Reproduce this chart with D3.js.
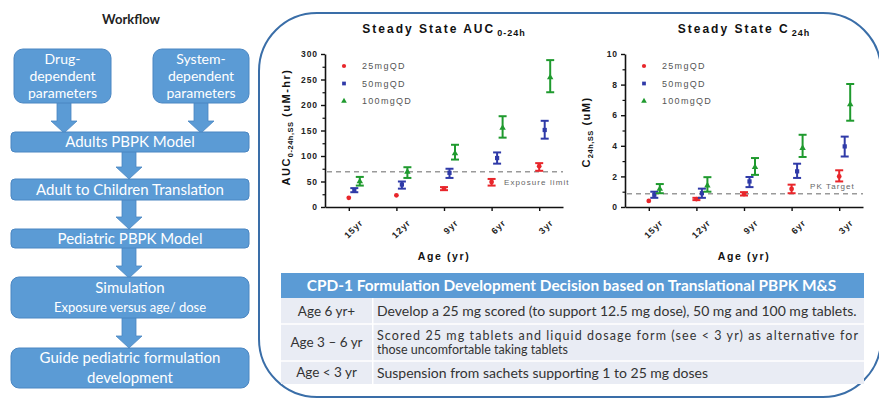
<!DOCTYPE html>
<html>
<head>
<meta charset="utf-8">
<script src="https://cdn.jsdelivr.net/npm/d3@7/dist/d3.min.js"></script>
<style>
  body { margin: 0; background: #fff; }
  svg { display: block; }
</style>
</head>
<body>
<div id="chart"></div>
<script>
// categories
const ages = ["15yr", "12yr", "9yr", "6yr", "3yr"];
const doses = ["25mgQD", "50mgQD", "100mgQD"];

// AUC 0-24h (uM-hr): [mean, low, high] per age
const auc25  = [[18, 18, 18], [23, 23, 23], [36, 33, 39], [49, 42, 55], [80, 71, 86]];
const auc50  = [[33, 29, 37], [44, 36, 50], [67, 57, 75], [96, 85, 107], [151, 134, 169]];
const auc100 = [[50, 42, 59], [69, 57, 78], [105, 93, 122], [155, 136, 178], [254, 225, 288]];

// C 24h (uM): [mean, low, high] per age
const c25  = [[0.40, 0.40, 0.40], [0.52, 0.45, 0.60], [0.85, 0.75, 0.97], [1.18, 0.90, 1.46], [2.00, 1.67, 2.40]];
const c50  = [[0.80, 0.60, 1.00], [0.90, 0.60, 1.20], [1.67, 1.30, 1.96], [2.33, 1.90, 2.83], [3.96, 3.30, 4.60]];
const c100 = [[1.18, 0.90, 1.50], [1.40, 1.00, 1.95], [2.60, 2.10, 3.20], [3.85, 3.27, 4.72], [6.70, 5.64, 8.04]];

const exposureLimit = 69;
const pkTarget = 0.87;

// workflow + table text
const workflowSteps = ["Adults PBPK Model", "Adult to Children Translation", "Pediatric PBPK Model",
                       ["Simulation", "Exposure versus age/ dose"], ["Guide pediatric formulation", "development"]];
const tableHeader = "CPD-1 Formulation Development Decision based on Translational PBPK M&S";
const tableAges = ["Age 6 yr+", "Age 3 \u2013 6 yr", "Age < 3 yr"];
const tableText = [
  ["Develop a 25 mg scored (to support 12.5 mg dose), 50 mg and 100 mg tablets."],
  ["Scored 25 mg tablets and liquid dosage form (see < 3 yr) as alternative for", "those uncomfortable taking tablets"],
  ["Suspension from sachets supporting 1 to 25 mg doses"]
];

const doseColors = ["#e8262b", "#2f3aa8", "#1f9a2e"];
const doseSymbols = [d3.symbolCircle, d3.symbolSquare, d3.symbolTriangle];
const boxBlue = "#5b9bd5";
const sans = "'Liberation Sans', Arial, sans-serif";
const cal = "Lato, 'Open Sans', sans-serif";

const svg = d3.select("#chart").append("svg")
  .attr("width", 879)
  .attr("height", 399);

// ---------- workflow ----------
const wf = svg.append("g").attr("font-family", cal);

wf.append("text")
  .attr("x", 131).attr("y", 24)
  .attr("text-anchor", "middle")
  .attr("font-weight", "bold")
  .attr("font-size", 13)
  .attr("fill", "#222")
  .text("Workflow");

function blockArrow(cx, y0, y1) {
  const sw = 7, hw = 13, hh = 12;
  const p = d3.path();
  p.moveTo(cx - sw, y0);
  p.lineTo(cx + sw, y0);
  p.lineTo(cx + sw, y1 - hh);
  p.lineTo(cx + hw, y1 - hh);
  p.lineTo(cx, y1);
  p.lineTo(cx - hw, y1 - hh);
  p.lineTo(cx - sw, y1 - hh);
  p.closePath();
  wf.append("path").attr("d", p.toString())
    .attr("fill", boxBlue).attr("stroke", "#4a86c2").attr("stroke-width", 0.8);
}

function box(x, y, w, h, r, lines, sizes, lineGap) {
  wf.append("rect")
    .attr("x", x).attr("y", y).attr("width", w).attr("height", h)
    .attr("rx", r)
    .attr("fill", boxBlue).attr("stroke", "#4a86c2").attr("stroke-width", 1);
  const n = lines.length;
  lines.forEach((t, i) => {
    wf.append("text")
      .attr("x", x + w / 2)
      .attr("y", y + h / 2 + (i - (n - 1) / 2) * lineGap)
      .attr("dy", "0.36em")
      .attr("text-anchor", "middle")
      .attr("fill", "#fff")
      .attr("font-size", sizes[i])
      .text(t);
  });
}

blockArrow(64, 101, 133);
blockArrow(201, 101, 133);
blockArrow(129, 151, 179);
blockArrow(129, 199, 229);
blockArrow(129, 247, 278);
blockArrow(129, 317, 348);

box(14, 49, 97, 54, 9, ["Drug-", "dependent", "parameters"], [14, 14, 14], 17);
box(153, 49, 96, 54, 9, ["System-", "dependent", "parameters"], [14, 14, 14], 17);
box(11, 132, 238, 20, 4, [workflowSteps[0]], [15], 0);
box(11, 179, 238, 21, 4, [workflowSteps[1]], [15], 0);
box(11, 229, 238, 19, 4, [workflowSteps[2]], [15], 0);
box(11, 277, 238, 41, 8, workflowSteps[3], [15, 13], 19);
box(11, 348, 238, 40, 8, workflowSteps[4], [15, 15], 20);

// ---------- outer panel ----------
svg.append("rect")
  .attr("x", 259).attr("y", 13)
  .attr("width", 622).attr("height", 384)
  .attr("rx", 58)
  .attr("fill", "none")
  .attr("stroke", "#3a6ea8")
  .attr("stroke-width", 2);

// ---------- charts ----------
function drawPanel(cfg) {
  const g = svg.append("g").attr("font-family", sans);
  const x = d3.scalePoint().domain(ages).range([cfg.left, cfg.left + 238]).padding(0.5);
  const dodge = d3.scalePoint().domain(doses).range([0, 11]);
  const y = d3.scaleLinear().domain([0, cfg.max]).range([207, 54]);

  // title
  const t = g.append("text")
    .attr("x", cfg.left + 119).attr("y", 33)
    .attr("text-anchor", "middle")
    .attr("font-weight", "bold")
    .attr("font-size", 12)
    .attr("letter-spacing", 2)
    .attr("fill", "#111");
  t.append("tspan").text(cfg.title);
  t.append("tspan").attr("font-size", 9).attr("dy", 3).attr("dx", 2).attr("letter-spacing", 1).text(cfg.titleSub);

  // minor y ticks
  g.append("g")
    .attr("transform", `translate(${cfg.left},0)`)
    .call(d3.axisLeft(y).tickValues(d3.range(cfg.minor, cfg.max, cfg.minor * 2)).tickSize(2.5).tickFormat(""))
    .call(s => s.select(".domain").remove())
    .call(s => s.selectAll("line").attr("stroke", "#111").attr("stroke-width", 1.2));

  // major y axis
  g.append("g")
    .attr("transform", `translate(${cfg.left},0)`)
    .call(d3.axisLeft(y).tickValues(d3.range(0, cfg.max + 0.001, cfg.minor * 2)).tickSize(4).tickSizeOuter(0).tickPadding(3))
    .call(s => s.select(".domain").attr("stroke", "#111").attr("stroke-width", 1.6))
    .call(s => s.selectAll("line").attr("stroke", "#111").attr("stroke-width", 1.4))
    .call(s => s.selectAll("text")
      .attr("font-family", sans).attr("font-size", 8.5).attr("font-weight", "bold")
      .attr("letter-spacing", 0.9).attr("fill", "#222"));

  // x axis
  g.append("g")
    .attr("transform", "translate(0,207)")
    .call(d3.axisBottom(x).tickSize(4).tickSizeOuter(0).tickPadding(6))
    .call(s => s.select(".domain").attr("stroke", "#111").attr("stroke-width", 1.6))
    .call(s => s.selectAll("line").attr("stroke", "#111").attr("stroke-width", 1.4))
    .call(s => s.selectAll("text")
      .attr("font-family", sans).attr("font-size", 9).attr("font-weight", "bold")
      .attr("letter-spacing", 0.9).attr("fill", "#222")
      .attr("text-anchor", "end")
      .attr("dy", "0.35em")
      .attr("transform", "translate(5,7) rotate(-45)"));

  // axis titles
  g.append("text")
    .attr("x", cfg.left + 119).attr("y", 260)
    .attr("text-anchor", "middle")
    .attr("font-weight", "bold").attr("font-size", 10.5).attr("letter-spacing", 1.6)
    .attr("fill", "#111")
    .text("Age (yr)");

  const yl = g.append("text")
    .attr("transform", `translate(${cfg.left - 35},${cfg.ylabelY}) rotate(-90)`)
    .attr("text-anchor", "middle")
    .attr("font-weight", "bold").attr("font-size", 11).attr("letter-spacing", 1.5)
    .attr("fill", "#111");
  yl.append("tspan").text(cfg.ylabel[0]);
  yl.append("tspan").attr("font-size", 7.5).attr("dy", 2.5).attr("letter-spacing", 0.5).text(cfg.ylabel[1]);
  yl.append("tspan").attr("dy", -2.5).text(cfg.ylabel[2]);

  // reference line
  g.append("line")
    .attr("x1", cfg.left + 2).attr("x2", cfg.left + 238)
    .attr("y1", y(cfg.ref)).attr("y2", y(cfg.ref))
    .attr("stroke", "#9a9a9a").attr("stroke-width", 1.5)
    .attr("stroke-dasharray", "5,4");
  g.append("text")
    .attr("x", cfg.refX).attr("y", y(cfg.ref) + cfg.refDy)
    .attr("font-size", 8).attr("letter-spacing", 1.1)
    .attr("fill", "#666")
    .text(cfg.refLabel);

  // legend
  doses.forEach((d, i) => {
    const ly = 66 + i * 17.5;
    g.append("path")
      .attr("transform", `translate(${cfg.left + 19},${ly})`)
      .attr("d", d3.symbol(doseSymbols[i], 14)())
      .attr("fill", doseColors[i]);
    g.append("text")
      .attr("x", cfg.left + 37).attr("y", ly)
      .attr("dy", "0.35em")
      .attr("font-size", 9).attr("letter-spacing", 1.3)
      .attr("fill", "#555")
      .text(d);
  });

  // error bars + points
  cfg.series.forEach((ser, si) => {
    const col = doseColors[si];
    const sg = g.append("g");
    ser.forEach((v, ai) => {
      const cx = x(ages[ai]) + dodge(doses[si]);
      if (v[2] > v[1]) {
        sg.append("line").attr("x1", cx).attr("x2", cx)
          .attr("y1", y(v[1])).attr("y2", y(v[2]))
          .attr("stroke", col).attr("stroke-width", 2);
        [v[1], v[2]].forEach(e => {
          sg.append("line").attr("x1", cx - 4).attr("x2", cx + 4)
            .attr("y1", y(e)).attr("y2", y(e))
            .attr("stroke", col).attr("stroke-width", 2);
        });
      }
      sg.append("path")
        .attr("transform", `translate(${cx},${y(v[0])})`)
        .attr("d", d3.symbol(doseSymbols[si], 18)())
        .attr("fill", col);
    });
  });
}

drawPanel({
  left: 325, max: 300, minor: 25,
  title: "Steady State AUC", titleSub: "0-24h",
  ylabel: ["AUC", "0-24h,SS", " (uM-hr)"], ylabelY: 127,
  ref: exposureLimit, refLabel: "Exposure limit", refX: 504, refDy: 13,
  series: [auc25, auc50, auc100]
});

drawPanel({
  left: 625, max: 10, minor: 1,
  title: "Steady State C", titleSub: "24h",
  ylabel: ["C", "24h,SS", " (uM)"], ylabelY: 132,
  ref: pkTarget, refLabel: "PK Target", refX: 810, refDy: -5,
  series: [c25, c50, c100]
});

// ---------- decision table ----------
const tb = svg.append("g").attr("font-family", cal);
const tx0 = 281, tx1 = 864, tcol = 372;
const rowEdges = [298, 324, 361, 384];

tb.append("rect")
  .attr("x", tx0).attr("y", 273).attr("width", tx1 - tx0).attr("height", 25)
  .attr("fill", boxBlue);
tb.append("text")
  .attr("x", (tx0 + tx1) / 2 - 1).attr("y", 285.5)
  .attr("dy", "0.36em")
  .attr("text-anchor", "middle")
  .attr("font-weight", "bold").attr("font-size", 15.4)
  .attr("fill", "#fff")
  .text(tableHeader);

tableAges.forEach((a, i) => {
  const y0 = rowEdges[i], y1 = rowEdges[i + 1], ym = (y0 + y1) / 2;
  tb.append("rect").attr("x", tx0).attr("y", y0).attr("width", tcol - tx0).attr("height", y1 - y0)
    .attr("fill", "#e9ecf4");
  tb.append("rect").attr("x", tcol + 1.5).attr("y", y0).attr("width", tx1 - tcol - 1.5).attr("height", y1 - y0)
    .attr("fill", "#e9ecf4");
  if (i > 0) {
    tb.append("line").attr("x1", tx0).attr("x2", tx1).attr("y1", y0).attr("y2", y0)
      .attr("stroke", "#fff").attr("stroke-width", 1.5);
  }
  tb.append("text")
    .attr("x", (tx0 + tcol) / 2).attr("y", ym)
    .attr("dy", "0.36em")
    .attr("text-anchor", "middle")
    .attr("font-size", 13.5).attr("fill", "#333")
    .text(a);
  const lines = tableText[i];
  const fs = lines.length > 1 ? 12.5 : 14;
  lines.forEach((l, li) => {
    const t = tb.append("text")
      .attr("x", 377).attr("y", ym + (li - (lines.length - 1) / 2) * 14)
      .attr("dy", "0.36em")
      .attr("font-size", fs).attr("fill", "#333")
      .text(l);
    if (lines.length > 1 && li < lines.length - 1) {
      t.attr("textLength", 481).attr("lengthAdjust", "spacing");
    }
  });
});
</script>
</body>
</html>
